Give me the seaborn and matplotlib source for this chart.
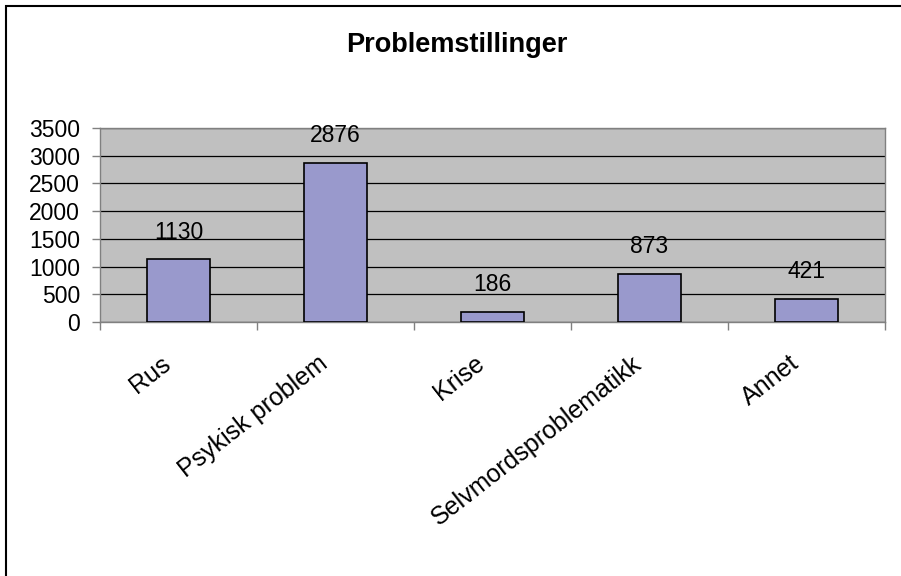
import pandas as pd
import matplotlib
matplotlib.use('Agg')
import matplotlib.pyplot as plt
import seaborn as sns
from matplotlib.patches import Rectangle

# data
categories = ['Rus', 'Psykisk problem', 'Krise', 'Selvmordsproblematikk', 'Annet']
counts = [1130, 2876, 186, 873, 421]
y_ticks = [0, 500, 1000, 1500, 2000, 2500, 3000, 3500]

df = pd.DataFrame({'category': categories, 'count': counts})

sns.set_style('white')
plt.rcParams['font.family'] = ['Liberation Sans', 'DejaVu Sans']
plt.rcParams['text.color'] = 'black'
plt.rcParams['xtick.labelcolor'] = 'black'
plt.rcParams['ytick.labelcolor'] = 'black'

fig = plt.figure(figsize=(9.01, 5.76), dpi=100)
ax = fig.add_axes([100 / 901, 1 - 322 / 576, 785 / 901, 194 / 576])

ax.set_facecolor('#C0C0C0')
sns.barplot(data=df, x='category', y='count', color='#9999CC', width=0.4,
            edgecolor='black', linewidth=1.2, saturation=1, ax=ax, zorder=3)

ax.set_ylim(0, 3500)
ax.set_xlim(-0.5, len(categories) - 0.5)
ax.set_yticks(y_ticks)
ax.set_yticklabels([str(t) for t in y_ticks], fontsize=16.5)
ax.yaxis.grid(True, color='black', linewidth=0.9, zorder=1)
ax.set_axisbelow(True)

# category labels end a little left of the centre, tick marks between categories
ax.set_xticks([i - 0.115 for i in range(len(categories))])
ax.set_xticklabels(categories, rotation=38, ha='right', rotation_mode='anchor', fontsize=18)
ax.set_xticks([i - 0.5 for i in range(len(categories) + 1)], minor=True)
ax.tick_params(axis='x', which='major', length=0, pad=21)
ax.tick_params(axis='x', which='minor', length=6, width=1, color='#808080', direction='out', bottom=True)
ax.tick_params(axis='y', length=6, width=1, color='#808080', direction='out', left=True, pad=8.5)

for s in ax.spines.values():
    s.set_color('#808080')
    s.set_linewidth(1)

ax.set_xlabel('')
ax.set_ylabel('')

for i, v in enumerate(counts):
    ax.annotate(str(v), (i, v), xytext=(0, 15), textcoords='offset points',
                ha='center', va='baseline', fontsize=16.5)

fig.text(457 / 901, 1 - 52 / 576, 'Problemstillinger', ha='center', va='baseline',
         fontsize=19.5, fontweight='bold')

# outer chart frame (cut off on the right and bottom)
fig.patches.append(Rectangle((6 / 901, -0.1), 1.2, 1 - 6 / 576 + 0.1, transform=fig.transFigure,
                             fill=False, edgecolor='black', linewidth=1.5))

fig.savefig('out.png', dpi=100)
